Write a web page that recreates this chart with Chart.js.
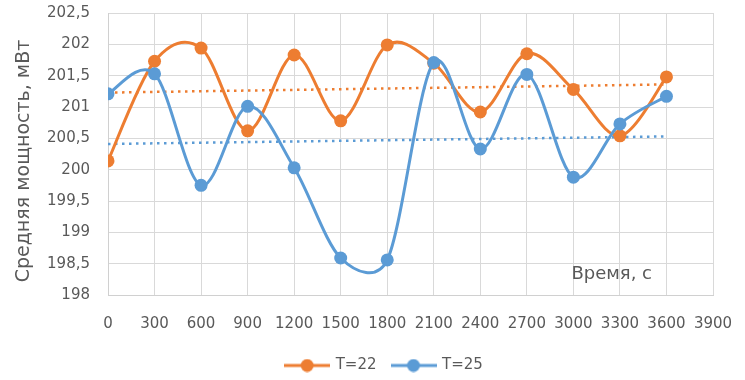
<!DOCTYPE html>
<html>
<head>
<meta charset="utf-8">
<script src="https://cdn.jsdelivr.net/npm/chart.js@4"></script>
<style>
html,body{margin:0;padding:0;background:#fff;}
#wrap{width:745px;height:380px;position:relative;}
</style>
</head>
<body>
<div id="wrap"><canvas id="c" width="745" height="380"></canvas></div>
<script>
// ---- data ----
const times = [0, 300, 600, 900, 1200, 1500, 1800, 2100, 2400, 2700, 3000, 3300, 3600];
const seriesT22 = [200.14, 201.73, 201.94, 200.62, 201.83, 200.78, 201.99, 201.70, 200.92, 201.85, 201.28, 200.54, 201.48];
const seriesT25 = [201.21, 201.53, 199.75, 201.01, 200.03, 198.59, 198.56, 201.71, 200.33, 201.52, 199.88, 200.73, 201.17];
const trendTimes = [0, 3600];
const trendT22 = [201.23, 201.36];
const trendT25 = [200.41, 200.53];
const seriesNames = ['T=22', 'T=25'];
const xAxisTitle = 'Время, с';
const yAxisTitle = 'Средняя мощность, мВт';
const xRange = [0, 3900];
const yRange = [198, 202.5];

const ORANGE = '#ED7D31';
const BLUE = '#5B9BD5';
const TEXT = '#595959';
const FONT = "'DejaVu Sans', 'Open Sans', sans-serif";

function pts(xs, ys) { return xs.map((x, i) => ({x: x, y: ys[i]})); }

function legendIcon(color) {
  const c = document.createElement('canvas');
  c.width = 46; c.height = 14;
  const g = c.getContext('2d');
  g.strokeStyle = color; g.lineWidth = 3;
  g.beginPath(); g.moveTo(0, 7); g.lineTo(46, 7); g.stroke();
  g.fillStyle = color;
  g.beginPath(); g.arc(23, 7, 6.5, 0, Math.PI * 2); g.fill();
  return c;
}
const icons = [legendIcon(ORANGE), legendIcon(BLUE)];

// Office-style smoothing: Bezier control points at 1/6 of the neighbour chord
// (limited for short segments), computed from the pixel positions the scales gave.
const officeSmooth = {
  id: 'officeSmooth',
  beforeDatasetDraw(chart, args) {
    const ds = chart.data.datasets[args.index];
    if (!ds.officeSmooth) return;
    const p = args.meta.data, n = p.length;
    const dist = (a, b) => Math.hypot(b.x - a.x, b.y - a.y);
    for (let i = 0; i < n - 1; i++) {
      const P0 = p[Math.max(i - 1, 0)], P1 = p[i], P2 = p[i + 1], P3 = p[Math.min(i + 2, n - 1)];
      const d12 = dist(P1, P2), d02 = dist(P0, P2), d13 = dist(P1, P3);
      let f1 = 1 / 6, f2 = 1 / 6;
      if (d02 / 6 > d12 / 2 && d02 > 0) f1 = d12 / (2 * d02);
      if (d13 / 6 > d12 / 2 && d13 > 0) f2 = d12 / (2 * d13);
      P1.cp2x = P1.x + f1 * (P2.x - P0.x);
      P1.cp2y = P1.y + f1 * (P2.y - P0.y);
      P2.cp1x = P2.x - f2 * (P3.x - P1.x);
      P2.cp1y = P2.y - f2 * (P3.y - P1.y);
    }
    p[0].cp1x = p[0].x; p[0].cp1y = p[0].y;
    p[n - 1].cp2x = p[n - 1].x; p[n - 1].cp2y = p[n - 1].y;
    args.meta.dataset._pointsUpdated = true;
    args.meta.dataset._path = undefined;
  }
};

// Axis titles placed like the Office layout (y title slightly below centre, x title inside plot)
const titlesPlugin = {
  id: 'axisTitles',
  afterDatasetsDraw(chart) {
    const a = chart.chartArea, ctx = chart.ctx;
    ctx.save();
    ctx.fillStyle = TEXT;
    ctx.font = '18px ' + FONT;
    ctx.textAlign = 'right';
    ctx.textBaseline = 'middle';
    ctx.fillText(xAxisTitle, a.right - 61, a.bottom - 21);
    ctx.translate(a.left - 84, (a.top + a.bottom) / 2 + 7);
    ctx.rotate(-Math.PI / 2);
    ctx.font = '19px ' + FONT;
    ctx.textAlign = 'center';
    ctx.fillText(yAxisTitle, 0, 0);
    ctx.restore();
  }
};

const fmt = v => String(v).replace('.', ',');

new Chart(document.getElementById('c'), {
  type: 'line',
  data: {
    datasets: [
      {label: seriesNames[0], data: pts(times, seriesT22), borderColor: ORANGE, backgroundColor: ORANGE,
       borderWidth: 3, pointRadius: 6.5, pointHoverRadius: 6.5, pointBackgroundColor: ORANGE, pointBorderWidth: 0,
       tension: 0.4, officeSmooth: true, order: 2},
      {label: seriesNames[1], data: pts(times, seriesT25), borderColor: BLUE, backgroundColor: BLUE,
       borderWidth: 3, pointRadius: 6.5, pointHoverRadius: 6.5, pointBackgroundColor: BLUE, pointBorderWidth: 0,
       tension: 0.4, officeSmooth: true, order: 1},
      {label: 'trend22', data: pts(trendTimes, trendT22), borderColor: ORANGE, borderWidth: 2.5,
       borderDash: [2.5, 4.5], pointRadius: 0, tension: 0, order: 3},
      {label: 'trend25', data: pts(trendTimes, trendT25), borderColor: BLUE, borderWidth: 2.5,
       borderDash: [2.5, 4.5], pointRadius: 0, tension: 0, order: 3}
    ]
  },
  options: {
    responsive: false,
    animation: false,
    devicePixelRatio: 1,
    layout: {padding: {top: 13, right: 0, left: 24, bottom: -3}},
    plugins: {
      tooltip: {enabled: false},
      legend: {
        position: 'bottom',
        labels: {
          usePointStyle: true,
          pointStyleWidth: 42,
          generateLabels: chart => seriesNames.map((n, i) => ({
            text: n, pointStyle: icons[i], fillStyle: 'transparent', strokeStyle: 'transparent',
            lineWidth: 0, fontColor: TEXT, datasetIndex: i, hidden: false
          })),
          color: TEXT,
          font: {family: FONT, size: 15},
          padding: 16,
          boxHeight: 14
        }
      }
    },
    scales: {
      x: {
        type: 'linear', min: xRange[0], max: xRange[1],
        ticks: {stepSize: 300, color: TEXT, font: {family: FONT, size: 15}, padding: 20, maxRotation: 0, autoSkip: false,
                callback: v => String(v)},
        grid: {color: '#d9d9d9', lineWidth: 1, drawTicks: false},
        border: {color: '#d0d0d0', width: 1},
        afterFit: s => { s.height = 47; s.paddingLeft = 0; s.paddingRight = 0; }
      },
      y: {
        min: yRange[0], max: yRange[1],
        ticks: {stepSize: 0.5, color: TEXT, font: {family: FONT, size: 15}, padding: 18, callback: v => fmt(v)},
        grid: {color: '#d9d9d9', lineWidth: 1, drawTicks: false},
        border: {color: '#d0d0d0', width: 1},
        afterFit: s => { s.width = 84; s.paddingTop = 0; s.paddingBottom = 0; }
      },
      yRightSpace: {
        position: 'right', display: true,
        grid: {display: false, drawTicks: false}, ticks: {display: false}, border: {display: false},
        afterFit: s => { s.width = 32; s.paddingTop = 0; s.paddingBottom = 0; }
      }
    }
  },
  plugins: [officeSmooth, titlesPlugin]
});
</script>
</body>
</html>
